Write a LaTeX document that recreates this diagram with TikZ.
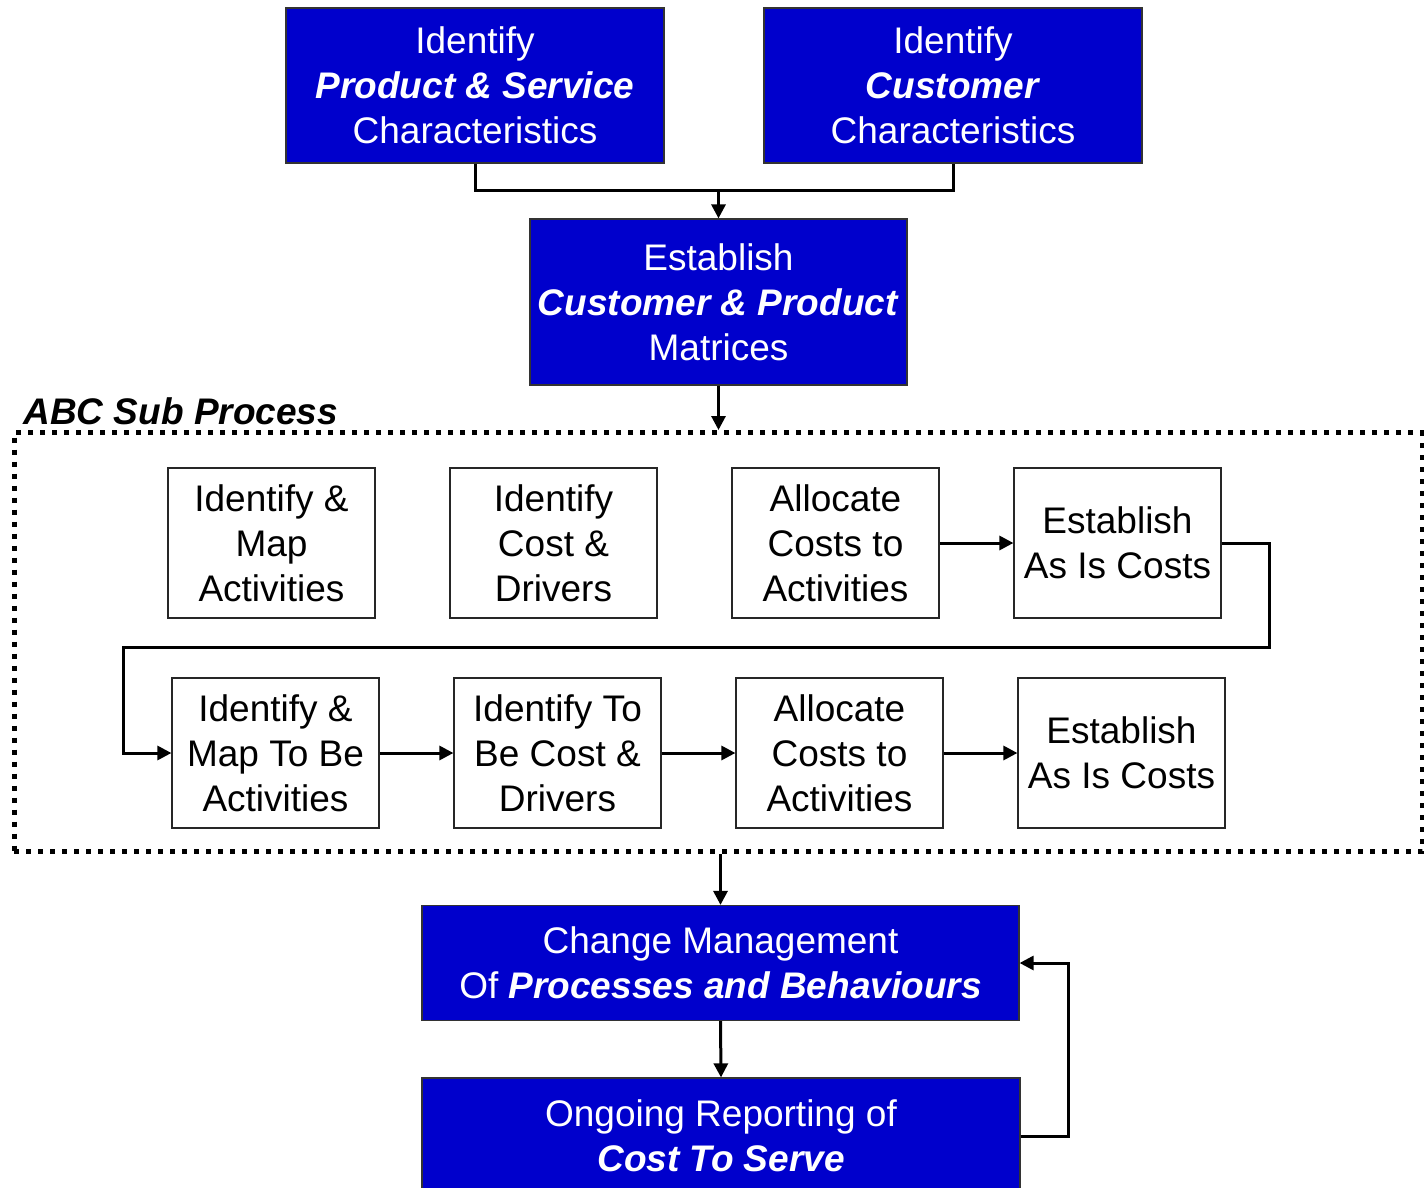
\documentclass[tikz,border=0pt]{standalone}
\usepackage{fontspec}
\setmainfont{Liberation Sans}
\usetikzlibrary{arrows.meta}
\definecolor{boxblue}{RGB}{0,0,204}
\newcommand{\bi}[1]{\textbf{\textit{#1}}}
\begin{document}
\begin{tikzpicture}[x=1pt,y=-1pt,
  txt/.style={font=\fontsize{37}{45}\selectfont, align=center},
  bluebox/.style={txt, draw=black!80, line width=1.2pt, fill=boxblue, text=white,
                  inner sep=0pt, minimum width=#1},
  stepbox/.style={txt, draw=black!85, line width=1.2pt, fill=white, text=black,
                  inner sep=0pt, minimum width=207pt, minimum height=150pt},
  conn/.style={line width=3pt, line join=miter},
  arr/.style={conn, -{Triangle[length=14pt,width=14pt]}},
  dotbox/.style={draw=black, line width=5pt, dash pattern=on 5pt off 7pt,
                 inner sep=0pt, minimum width=1408pt, minimum height=419pt}
]
\useasboundingbox (0,0) rectangle (1424,1188);

% top row of blue boxes
\node[bluebox=378pt, minimum height=155pt] (A) at (475,85.5)
  {Identify\\\bi{Product \& Service}\\Characteristics};
\node[bluebox=378pt, minimum height=155pt] (B) at (953,85.5)
  {Identify\\\bi{Customer}\\Characteristics};
\node[bluebox=377pt, minimum height=166pt] (C) at (718.5,302)
  {Establish\\\bi{Customer \& Product}\\Matrices};

% dotted frame of the ABC sub process
\node[dotbox] (abc) at (718,642) {};
\node[anchor=base west, font=\fontsize{37}{45}\selectfont\bfseries\itshape] (abclbl) at (20,424) {ABC Sub Process};

% first row of steps
\node[stepbox] (r1) at (271.5,543) {Identify \&\\Map\\Activities};
\node[stepbox] (r2) at (553.5,543) {Identify\\Cost \&\\Drivers};
\node[stepbox] (r3) at (835.5,543) {Allocate\\Costs to\\Activities};
\node[stepbox] (r4) at (1117.5,543) {Establish\\As Is Costs};

% second row of steps
\node[stepbox] (r5) at (275.5,753) {Identify \&\\Map To Be\\Activities};
\node[stepbox] (r6) at (557.5,753) {Identify To\\Be Cost \&\\Drivers};
\node[stepbox] (r7) at (839.5,753) {Allocate\\Costs to\\Activities};
\node[stepbox] (r8) at (1121.5,753) {Establish\\As Is Costs};

% bottom blue boxes
\node[bluebox=597pt, minimum height=115pt] (D) at (720.5,963)
  {Change Management\\Of \bi{Processes and Behaviours}};
\node[bluebox=598pt, minimum height=116pt] (E) at (721,1136)
  {Ongoing Reporting of\\\bi{Cost To Serve}};

% connectors
\coordinate (j) at (718.5,190);
\draw[conn] (A.south) |- (j) -| (B.south);
\draw[arr] (j) -- (C.north);
\draw[arr] (C.south) -- (C.south |- abc.north);

\draw[arr] (r3.east) -- (r4.west);
\coordinate (t1) at (1269,647);
\coordinate (t2) at (123,647);
\draw[arr] (r4.east) -| (t1) -- (t2) |- (r5.west);
\draw[arr] (r5.east) -- (r6.west);
\draw[arr] (r6.east) -- (r7.west);
\draw[arr] (r7.east) -- (r8.west);

\draw[arr] (D.north |- abc.south) -- (D.north);
\draw[arr] (D.south) -- (E.north);
\coordinate (fb) at (1068,1136);
\draw[arr] (E.east) -- (fb) |- (D.east);
\end{tikzpicture}
\end{document}
